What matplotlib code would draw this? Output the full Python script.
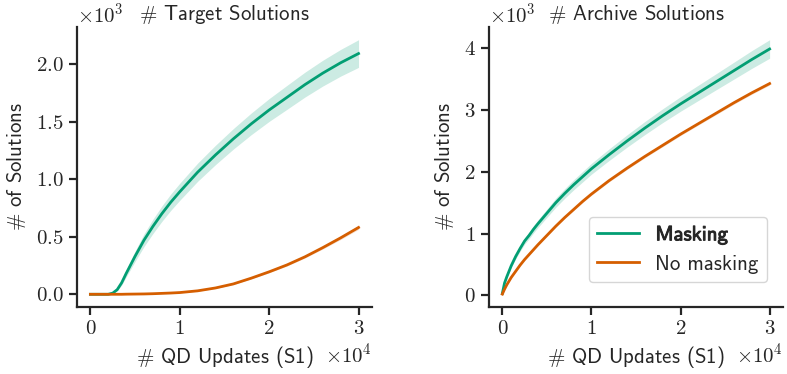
import matplotlib
matplotlib.use("Agg")
import matplotlib.pyplot as plt
import matplotlib.patheffects as pe
import numpy as np

# ---------------- data ----------------
updates = [0, 250, 500, 1000, 1500, 2000, 2500, 3000, 3500, 4000, 5000, 6000, 7000, 8000, 9000,
           10000, 12000, 14000, 16000, 18000, 20000, 22000, 24000, 26000, 28000, 30000]

target_mask = [0, 0, 0, 0, 0, 0, 10, 40, 100, 180, 330, 470, 590, 700, 800,
               890, 1060, 1210, 1350, 1480, 1600, 1710, 1820, 1920, 2010, 2090]
target_mask_sd = [0, 0, 0, 0, 0, 0, 3, 10, 20, 30, 45, 55, 62, 67, 71,
                  74, 79, 84, 89, 94, 99, 104, 108, 112, 116, 120]
target_nomask = [0, 0, 0, 0, 0, 0, 0, 0, 0, 1, 2, 3, 5, 8, 11,
                 15, 30, 55, 90, 140, 195, 255, 325, 405, 490, 580]
target_nomask_sd = [0, 0, 0, 0, 0, 0, 0, 0, 0, 0, 0, 0, 1, 1, 1,
                    2, 3, 4, 5, 6, 8, 9, 10, 12, 14, 16]

archive_mask = [30, 200, 300, 480, 630, 760, 880, 970, 1070, 1160, 1330, 1500, 1650, 1790, 1920,
                2050, 2280, 2500, 2710, 2910, 3100, 3280, 3460, 3640, 3820, 3990]
archive_mask_sd = [5, 15, 20, 30, 38, 45, 50, 55, 58, 62, 68, 74, 78, 82, 85,
                   88, 94, 100, 106, 112, 118, 124, 130, 137, 144, 150]
archive_nomask = [20, 100, 170, 290, 390, 490, 580, 660, 740, 820, 970, 1120, 1260, 1390, 1520,
                  1640, 1860, 2060, 2250, 2430, 2610, 2780, 2950, 3120, 3280, 3430]
archive_nomask_sd = [3, 5, 8, 10, 11, 12, 13, 14, 14, 15, 16, 17, 18, 19, 19,
                     20, 20, 21, 21, 22, 22, 22, 23, 23, 23, 24]

titles = ["Target Solutions", "Archive Solutions"]
legend_labels = ["Masking", "No masking"]
xlabel = "QD Updates (S1)"
ylabel = "of Solutions"

GREEN = "#029e73"
ORANGE = "#d55e00"
DARK = "0.15"

# ---------------- style ----------------
plt.rcParams.update({
    "font.family": "cmr10",
    "mathtext.fontset": "cm",
    "axes.formatter.use_mathtext": True,
    "font.size": 15,
    "axes.linewidth": 1.6,
    "axes.edgecolor": DARK,
    "xtick.color": DARK,
    "ytick.color": DARK,
    "text.color": DARK,
    "axes.labelcolor": DARK,
    "xtick.major.size": 6,
    "ytick.major.size": 6,
    "xtick.major.width": 1.6,
    "ytick.major.width": 1.6,
    "xtick.labelsize": 15,
    "ytick.labelsize": 15,
})
SANS = "cmss10"

fig = plt.figure(figsize=(7.87, 3.74), dpi=100)
ax1 = fig.add_axes([0.0978, 0.1791, 0.3748, 0.7487])
ax2 = fig.add_axes([0.6213, 0.1791, 0.3736, 0.7487])

x = np.array(updates, dtype=float)

def draw(ax, mean, sd, color, label):
    m = np.array(mean, dtype=float)
    s = np.array(sd, dtype=float)
    ax.fill_between(x, m - s, m + s, color=color, alpha=0.2, lw=0)
    ax.plot(x, m, color=color, lw=2.0, label=label, solid_joinstyle="round")

draw(ax1, target_mask, target_mask_sd, GREEN, legend_labels[0])
draw(ax1, target_nomask, target_nomask_sd, ORANGE, legend_labels[1])
draw(ax2, archive_mask, archive_mask_sd, GREEN, legend_labels[0])
draw(ax2, archive_nomask, archive_nomask_sd, ORANGE, legend_labels[1])

ax1.set_yticks([0, 500, 1000, 1500, 2000])
ax2.set_yticks([0, 1000, 2000, 3000, 4000])

for ax, title in zip([ax1, ax2], titles):
    ax.spines["top"].set_visible(False)
    ax.spines["right"].set_visible(False)
    ax.set_xticks([0, 10000, 20000, 30000])
    ax.ticklabel_format(style="sci", axis="both", scilimits=(0, 0), useMathText=True)
    ax.set_title(r"$\#$ " + title, family=SANS, fontsize=15, pad=5)
    ax.set_xlabel(r"$\#$ " + xlabel, family=SANS, fontsize=15, labelpad=4)
    ax.set_ylabel(r"$\#$ " + ylabel, family=SANS, fontsize=15, labelpad=6)
    ax.xaxis.get_offset_text().set_fontsize(15)
    ax.yaxis.get_offset_text().set_fontsize(15)

leg = ax2.legend(loc="lower right", bbox_to_anchor=(0.946, 0.089), borderaxespad=0,
                 prop={"family": SANS, "size": 15}, handlelength=2.0,
                 frameon=True, framealpha=0.8, edgecolor="0.8", fancybox=True)
for line in leg.get_lines():
    line.set_linewidth(2.0)
t0 = leg.get_texts()[0]
t0.set_path_effects([pe.withStroke(linewidth=0.7, foreground=DARK)])

fig.savefig("out.png", dpi=100)
